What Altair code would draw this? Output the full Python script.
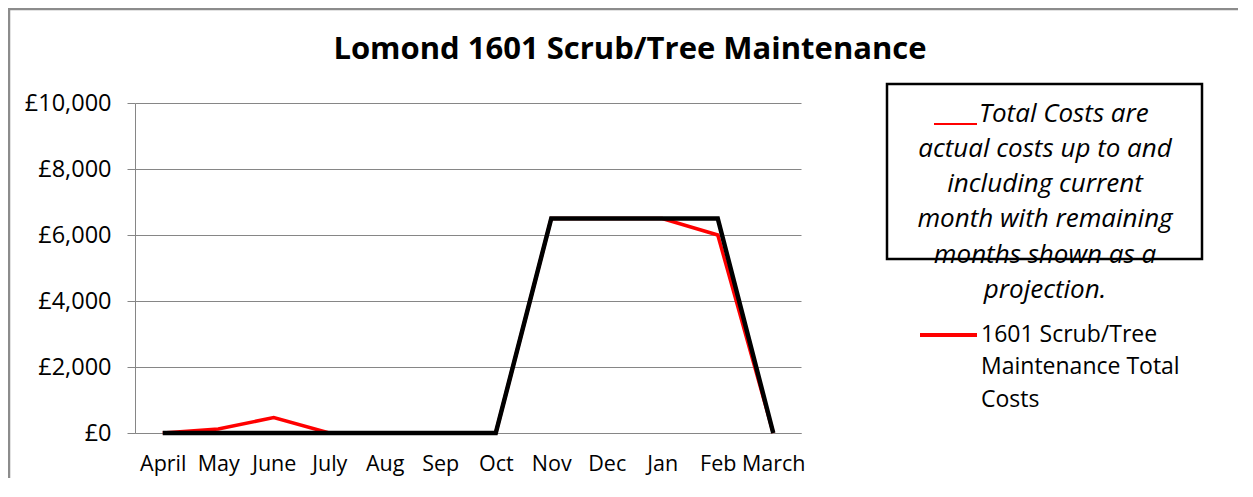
import altair as alt
import pandas as pd

months = ["April", "May", "June", "July", "Aug", "Sep", "Oct", "Nov", "Dec", "Jan", "Feb", "March"]
actual_costs = [0, 120, 470, 0, 0, 0, 0, 6500, 6500, 6500, 6000, 0]
budget_costs = [0, 0, 0, 0, 0, 0, 0, 6500, 6500, 6500, 6500, 0]
y_ticks = [0, 2000, 4000, 6000, 8000, 10000]
title_text = "Lomond 1601 Scrub/Tree Maintenance"
note_first = "Total Costs are"
note_rest = ["actual costs up to and", "including current", "month with remaining",
             "months shown as a", "projection."]
legend_lines = ["1601 Scrub/Tree", "Maintenance Total", "Costs"]

W, H = 666, 330
FONT = "Open Sans"
GRID = "#868686"

df = pd.DataFrame({"month": months, "actual": actual_costs, "budget": budget_costs})

x_enc = alt.X(
    "month:O", sort=months, scale=alt.Scale(padding=0.5),
    axis=alt.Axis(title=None, labelAngle=0, labelFontSize=21.5, labelFont=FONT,
                  labelColor="black", labelPadding=20, ticks=False,
                  domainColor=GRID, labelOverlap=False),
)
y_scale = alt.Scale(domain=[0, 10000])
y_axis = alt.Axis(title=None, values=y_ticks, labelExpr="'£' + format(datum.value, ',')",
                  grid=True, gridColor=GRID, tickColor=GRID, tickSize=8,
                  domainColor=GRID, labelFontSize=23.5, labelFont=FONT,
                  labelColor="black", labelPadding=16)

base = alt.Chart(df)
red = base.mark_line(color="#ff0000", strokeWidth=3.5).encode(
    x=x_enc, y=alt.Y("actual:Q", scale=y_scale, axis=y_axis))
black = base.mark_line(color="black", strokeWidth=4.5).encode(
    x=x_enc, y=alt.Y("budget:Q", scale=y_scale, axis=y_axis))

one = pd.DataFrame({"t": [""]})

border = alt.Chart(one).mark_rect(filled=False, stroke="#8c8c8c", strokeWidth=2.5).encode(
    x=alt.value(-126), x2=alt.value(1300), y=alt.value(-94), y2=alt.value(600))

title = alt.Chart(pd.DataFrame({"t": [title_text]})).mark_text(
    font=FONT, fontSize=31, fontWeight="bold", align="center", baseline="alphabetic",
    color="black").encode(text="t:N", x=alt.value(495), y=alt.value(-44))

box = alt.Chart(one).mark_rect(filled=False, stroke="black", strokeWidth=2.5).encode(
    x=alt.value(752), x2=alt.value(1067), y=alt.value(-19), y2=alt.value(156))

note_mark = alt.Chart(one).mark_rule(color="#ff0000", strokeWidth=2).encode(
    x=alt.value(799), x2=alt.value(842), y=alt.value(21))

note1 = alt.Chart(pd.DataFrame({"t": [note_first]})).mark_text(
    font=FONT, fontSize=26, fontStyle="italic", align="left", baseline="alphabetic",
    color="black").encode(text="t:N", x=alt.value(844), y=alt.value(18.7))

note2 = alt.Chart(pd.DataFrame({"t": ["\n".join(note_rest)]})).mark_text(
    font=FONT, fontSize=26, fontStyle="italic", align="center", baseline="alphabetic",
    lineBreak="\n", lineHeight=35.3, color="black").encode(
    text="t:N", x=alt.value(910), y=alt.value(53.7))

leg_rule = alt.Chart(one).mark_rule(color="#ff0000", strokeWidth=4).encode(
    x=alt.value(785), x2=alt.value(842), y=alt.value(232))

leg_text = alt.Chart(pd.DataFrame({"t": ["\n".join(legend_lines)]})).mark_text(
    font=FONT, fontSize=23, align="left", baseline="alphabetic",
    lineBreak="\n", lineHeight=32.5, color="black").encode(
    text="t:N", x=alt.value(846), y=alt.value(238.7))

chart = alt.layer(border, red, black, title, box, note_mark, note1, note2, leg_rule, leg_text).properties(
    width=W, height=H,
    autosize=alt.AutoSizeParams(type="none"),
    padding={"left": 127, "top": 95, "right": 437, "bottom": 45},
    background="white",
).configure_view(stroke=None)

chart.save("out.html", embed_options={"renderer": "svg", "actions": False})
